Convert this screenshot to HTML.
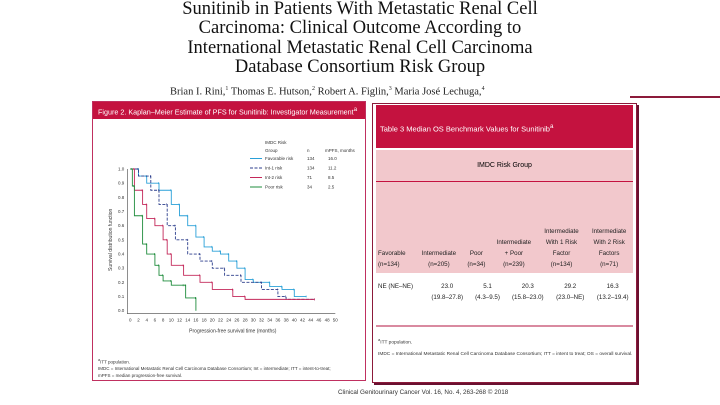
<!DOCTYPE html>
<html><head><meta charset="utf-8"><style>
body{margin:0;width:720px;height:405px;background:#fff;position:relative;overflow:hidden;font-family:"Liberation Sans",sans-serif}
.abs{position:absolute}
.t{font-family:"Liberation Serif",serif;font-size:18.5px;line-height:19.3px;text-align:center;left:0;width:720px;top:0;color:#111}
table{border-collapse:collapse;font-size:6.2px;color:#222;width:100%}
td{text-align:center;vertical-align:bottom;padding:0 2px}
</style></head><body>
<div class="abs t">Sunitinib in Patients With Metastatic Renal Cell<br>Carcinoma: Clinical Outcome According to<br>International Metastatic Renal Cell Carcinoma<br>Database Consortium Risk Group</div>
<div class="abs" style="left:170px;top:86px;font-family:'Liberation Serif',serif;font-size:10.5px;color:#222">Brian I. Rini,<sup style="font-size:6px">1</sup> Thomas E. Hutson,<sup style="font-size:6px">2</sup> Robert A. Figlin,<sup style="font-size:6px">3</sup> Maria José Lechuga,<sup style="font-size:6px">4</sup></div>
<div class="abs" style="left:630px;top:96px;width:90px;height:2px;background:#8c1a3a"></div>

<div class="abs" style="left:92px;top:101px;width:274px;height:280px;border:1px solid #c03060;box-sizing:border-box">
<div style="background:#c4123f;color:#fff;font-size:7.2px;height:17px;line-height:17px;padding-left:5px">Figure 2. Kaplan–Meier Estimate of PFS for Sunitinib: Investigator Measurement<sup>a</sup></div>
<div class="abs" style="left:5px;top:255px;font-size:4.5px;line-height:6.5px;color:#333"><sup>a</sup>ITT population.<br>IMDC = International Metastatic Renal Cell Carcinoma Database Consortium; Int = intermediate; ITT = intent-to-treat;<br>mPFS = median progression-free survival.</div>
</div>
<svg class="abs" style="left:0;top:0" width="720" height="405" id="km"></svg>

<div class="abs" style="left:372px;top:103px;width:265px;height:280px;border:1px solid #8c1a3a;box-shadow:2px 2px 0 #6a1030;box-sizing:border-box;background:#fff;overflow:hidden">
<div style="background:#c4123f;color:#fff;font-size:7.5px;height:43px;line-height:43px;padding-left:4px;margin:1px 3px 0 3px">Table 3 Median OS Benchmark Values for Sunitinib<sup>a</sup></div>
<div style="margin:2px 3px 0 3px;background:#f2c8cc">
<div style="height:32px;line-height:32px;text-align:center;font-size:7px;border-bottom:1px solid #c4123f;box-sizing:border-box">IMDC Risk Group</div>
<table><tr style="height:91px"><td style="text-align:left;line-height:11px;padding-bottom:3px">Favorable<br>(n=134)</td><td style="line-height:11px;padding-bottom:3px">Intermediate<br>(n=205)</td><td style="line-height:11px;padding-bottom:3px">Poor<br>(n=34)</td><td style="line-height:11px;padding-bottom:3px">Intermediate<br>+ Poor<br>(n=239)</td><td style="line-height:11px;padding-bottom:3px">Intermediate<br>With 1 Risk<br>Factor<br>(n=134)</td><td style="line-height:11px;padding-bottom:3px">Intermediate<br>With 2 Risk<br>Factors<br>(n=71)</td></tr></table>
</div>
<table style="margin:0 3px;width:259px"><tr style="height:52px"><td style="text-align:left;vertical-align:top;padding-top:8px;line-height:11px">NE (NE–NE)</td><td style="vertical-align:top;padding-top:8px;line-height:11px">23.0<br>(19.8–27.8)</td><td style="vertical-align:top;padding-top:8px;line-height:11px">5.1<br>(4.3–9.5)</td><td style="vertical-align:top;padding-top:8px;line-height:11px">20.3<br>(15.8–23.0)</td><td style="vertical-align:top;padding-top:8px;line-height:11px">29.2<br>(23.0–NE)</td><td style="vertical-align:top;padding-top:8px;line-height:11px">16.3<br>(13.2–19.4)</td></tr></table>
<div style="margin:0 3px;height:2px;background:#d98aa0"></div>
<div style="font-size:4.8px;line-height:11px;color:#333;padding:7px 0 0 5px"><sup>a</sup>ITT population.<br>IMDC = International Metastatic Renal Cell Carcinoma Database Consortium; ITT = intent to treat; OS = overall survival.</div>
</div>
<div class="abs" style="left:338px;top:389px;font-size:6.3px;color:#333">Clinical Genitourinary Cancer Vol. 16, No. 4, 263-268 © 2018</div>

<script>
const groups=["Favorable risk","Int-1 risk","Int-2 risk","Poor risk"];
const nVals=[134,134,71,34];
const mpfs=["16.0","11.2","8.5","2.5"];
const favT=[0,2,4,7,10,12,14,16,18,20,22,24,26,28,30,34,37,40,43];
const favS=[1,0.95,0.9,0.85,0.75,0.67,0.6,0.52,0.45,0.42,0.4,0.35,0.3,0.22,0.2,0.17,0.15,0.1,0.1];
const int1T=[0,2,5,7,9,11,14,17,20,23,27,32,36,38,45];
const int1S=[1,0.95,0.85,0.75,0.6,0.5,0.4,0.35,0.3,0.25,0.2,0.15,0.1,0.08,0.08];
const int2T=[0,1,3,4,6,8,9,10,13,17,20,25,28,45];
const int2S=[1,0.85,0.75,0.65,0.6,0.5,0.4,0.32,0.25,0.2,0.15,0.1,0.08,0.08];
const poorT=[0,0.5,1,3,4,6,7,8,10,13,13.5,16,16];
const poorS=[1,0.88,0.67,0.47,0.4,0.32,0.25,0.21,0.18,0.18,0.09,0.09,0];
const xTicks=[0,2,4,6,8,10,12,14,16,18,20,22,24,26,28,30,32,34,36,38,40,42,44,46,48,50];
const yTicks=[0,0.1,0.2,0.3,0.4,0.5,0.6,0.7,0.8,0.9,1.0];
const colors=["#2aa0d8","#2c3e8c","#c4285a","#1f8c3c"];
const dashes=["","3,1.5","",""];
const X=v=>130.3+v*4.1, Y=v=>310.7-v*141.7;
const svg=document.getElementById('km');const NS="http://www.w3.org/2000/svg";
function mk(tag,a,txt){const e=document.createElementNS(NS,tag);for(const k in a)e.setAttribute(k,a[k]);if(txt!=null)e.textContent=txt;svg.appendChild(e);return e;}
let ax=mk('line',{x1:X(0)-3,y1:Y(0)+3,x2:X(50),y2:Y(0)+3,stroke:'#444','stroke-width':0.6});

let ay=mk('line',{x1:X(0)-3,y1:Y(0)+3,x2:X(0)-3,y2:Y(1),stroke:'#444','stroke-width':0.6});

xTicks.forEach(t=>{let e=mk('text',{x:X(t),y:Y(0)+11,'font-size':4.5,'text-anchor':'middle',fill:'#333'},t);
});
yTicks.forEach(t=>{let e=mk('text',{x:X(0)-6,y:Y(t)+1.5,'font-size':4.5,'text-anchor':'end',fill:'#333'},t.toFixed(1));
});
let xt=mk('text',{x:X(25),y:Y(0)+22,'font-size':5,'text-anchor':'middle',fill:'#333'},'Progression-free survival time (months)');

let yt=mk('text',{x:0,y:0,'font-size':5,'text-anchor':'middle',fill:'#333',transform:`translate(112,${Y(0.5)}) rotate(-90)`},'Survival distribution function');

const series=[[favT,favS],[int1T,int1S],[int2T,int2S],[poorT,poorS]];
series.forEach(([T,S],i)=>{let d=`M${X(T[0])},${Y(S[0])}`;for(let k=1;k<T.length;k++){d+=`H${X(T[k])}V${Y(S[k])}`;}
let p=mk('path',{d:d,fill:'none',stroke:colors[i],'stroke-width':0.9,'stroke-dasharray':dashes[i]});

for(let k=1;k<T.length;k++){let c=mk('line',{x1:X(T[k])-0.5,x2:X(T[k])-0.5,y1:Y(S[k-1])-1,y2:Y(S[k-1])+1,stroke:colors[i],'stroke-width':0.6});
}
});
const lx=255,ly=152;
[['IMDC Risk',lx+10,ly-8],['Group',lx+10,ly],['n',lx+52,ly],['mPFS, months',lx+70,ly]].forEach(a=>{let e=mk('text',{x:a[1],y:a[2],'font-size':4.5,fill:'#333'},a[0]);
});
groups.forEach((g,i)=>{const yy=ly+8+i*9.5;
let l=mk('line',{x1:lx-5,x2:lx+7,y1:yy-1.5,y2:yy-1.5,stroke:colors[i],'stroke-width':1,'stroke-dasharray':dashes[i]});

let e=mk('text',{x:lx+10,y:yy,'font-size':4.5,fill:'#333'},g);
let n=mk('text',{x:lx+52,y:yy,'font-size':4.5,fill:'#333'},nVals[i]);
let m=mk('text',{x:lx+73,y:yy,'font-size':4.5,fill:'#333'},mpfs[i]);});
</script>
</body></html>
